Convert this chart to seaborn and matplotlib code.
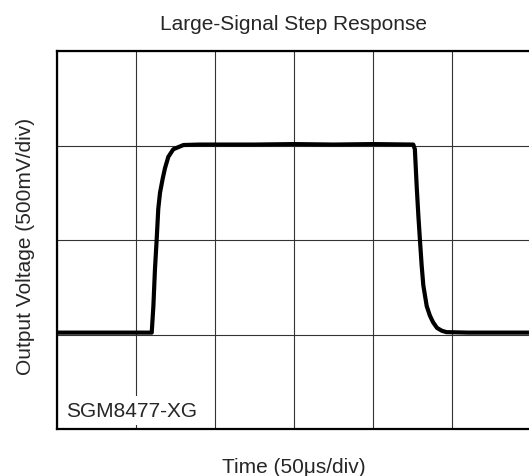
import numpy as np
import pandas as pd
import seaborn as sns
import matplotlib.pyplot as plt

# trace, in divisions (x: 50us/div, y: 500mV/div)
time_div = [0.00, 0.50, 1.00, 1.199, 1.22, 1.24, 1.262, 1.282, 1.304, 1.338, 1.367,
            1.409, 1.472, 1.60, 1.80, 2.50, 3.00, 3.50, 4.00, 4.51, 4.53, 4.553,
            4.574, 4.595, 4.616, 4.637, 4.68, 4.72, 4.76, 4.81, 4.87, 4.93, 5.20,
            5.60, 6.00]
volt_div = [1.02, 1.02, 1.02, 1.02, 1.30, 1.69, 2.01, 2.33, 2.50, 2.65, 2.76,
            2.88, 2.96, 3.005, 3.01, 3.01, 3.015, 3.01, 3.015, 3.01, 2.96, 2.57,
            2.26, 1.99, 1.73, 1.52, 1.30, 1.20, 1.13, 1.07, 1.04, 1.025, 1.02,
            1.02, 1.02]

n_xdiv = 6
n_ydiv = 4
title = 'Large-Signal Step Response'
xlabel = 'Time (50μs/div)'
ylabel = 'Output Voltage (500mV/div)'
part = 'SGM8477-XG'

df = pd.DataFrame({'t': time_div, 'v': volt_div})

sns.set_style('white')
plt.rcParams['font.family'] = ['Liberation Sans', 'DejaVu Sans']

W, H = 529, 477
fig = plt.figure(figsize=(W / 100, H / 100), dpi=100)
ax = fig.add_axes([57 / W, 1 - 430 / H, 474 / W, 378 / H])

sns.lineplot(data=df, x='t', y='v', ax=ax, color='black', linewidth=3,
             estimator=None, sort=False)

ax.set_xlim(0, n_xdiv)
ax.set_ylim(0, n_ydiv)
ax.set_xticks(range(n_xdiv + 1))
ax.set_yticks(range(n_ydiv + 1))
ax.set_xticklabels([])
ax.set_yticklabels([])
ax.tick_params(length=0)
ax.grid(True, color='#333333', linewidth=0.8)
ax.set_axisbelow(True)
ax.set_xlabel('')
ax.set_ylabel('')
for s in ax.spines.values():
    s.set_color('black')
    s.set_linewidth(1.6)

ax.text(0.12, 0.14, part, fontsize=15, va='baseline', ha='left',
        bbox=dict(facecolor='white', edgecolor='none', pad=3.5), zorder=3)

fig.text(293 / W, 1 - 30 / H, title, fontsize=15, ha='center', va='baseline')
fig.text(294 / W, 1 - 473 / H, xlabel, fontsize=15, ha='center', va='baseline')
fig.text(26 / W, 1 - 246 / H, ylabel, fontsize=15, ha='center', va='center',
         rotation=90)

plt.savefig('out.png', dpi=100)
